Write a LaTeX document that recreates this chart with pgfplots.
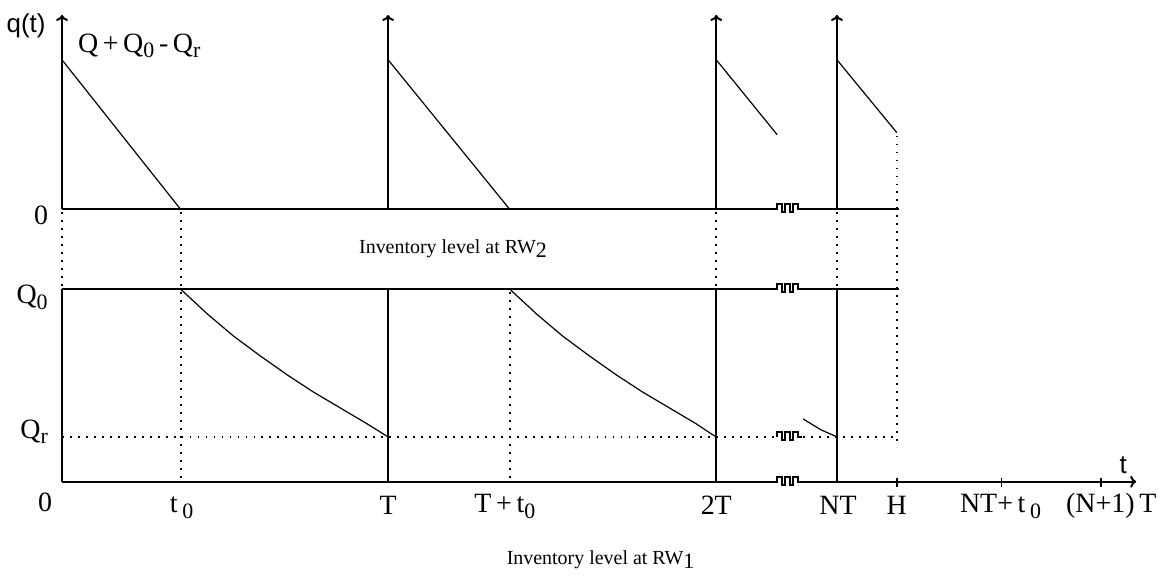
\documentclass[border=0pt]{standalone}
\usepackage{fontspec}
\setmainfont{Liberation Serif}
\newfontfamily\sansf{Liberation Sans}
\usepackage{pgfplots}
\pgfplotsset{compat=1.18}
\usetikzlibrary{arrows.meta}

% larger, lower subscripts as in the reference
\newcommand{\sub}[1]{\raisebox{-0.45ex}{\fontsize{11}{11}\selectfont #1}}

\tikzset{
    axisline/.style={line width=1pt},
    saw/.style={line width=0.6pt},
    dots/.style={line width=0.9pt, dash pattern=on 0.9pt off 3.1pt},
    up/.style={line width=1pt, -{To[length=3pt,width=6pt]}},
    lab/.style={font=\fontsize{14}{14}\selectfont},
    small/.style={font=\fontsize{10}{10}\selectfont},
}

\begin{document}
\begin{tikzpicture}
\begin{axis}[
    x=0.5pt, y=0.5pt, y dir=reverse,
    xmin=0, xmax=1163, ymin=0, ymax=572,
    hide axis, clip=false,
    every axis plot/.append style={black, no markers},
]
\path (rel axis cs:0,0) rectangle (rel axis cs:1,1);

% ---- inventory at RW2 (upper panel)
\addplot[up] coordinates {(61,210)(61,15)};
\addplot[up] coordinates {(388,210)(388,15)};
\addplot[up] coordinates {(717,210)(717,15)};
\addplot[up] coordinates {(838,210)(838,15)};
\addplot[axisline] coordinates {(61,210)(778,210)(778,205)(783,205)(783,213)(786,213)(786,205)(791,205)(791,213)(794,213)(794,205)(799,205)(799,210)(900,210)};
\addplot[saw] coordinates {(61,60)(180,210)};
\addplot[saw] coordinates {(388,60)(510,210)};
\addplot[saw] coordinates {(717,60)(778,135)};
\addplot[saw] coordinates {(838,60)(898,133)};

% ---- inventory at RW1 (lower panel)
\addplot[axisline] coordinates {(61,483)(61,290)};
\addplot[axisline] coordinates {(388,483)(388,290)};
\addplot[axisline] coordinates {(717,483)(717,290)};
\addplot[axisline] coordinates {(838,483)(838,290)};
\addplot[axisline] coordinates {(61,290)(778,290)(778,285)(783,285)(783,293)(786,293)(786,285)(791,285)(791,293)(794,293)(794,285)(799,285)(799,290)(900,290)};
\addplot[axisline, -{To[length=3pt,width=6pt]}] coordinates {(61,483)(778,483)(778,478)(783,478)(783,486)(786,486)(786,478)(791,478)(791,486)(794,486)(794,478)(799,478)(799,483)(1138,483)};
\addplot[line width=0.8pt] coordinates {(898,479)(898,488)};
\addplot[line width=0.8pt] coordinates {(1003,479)(1003,488)};
\addplot[line width=0.8pt] coordinates {(1103,479)(1103,488)};
\addplot[saw] coordinates {(180,290)(207,315)(233,337)(260,357)(287,376)(313,393)(340,409)(367,425)(383,435)(388,438)};
\addplot[saw] coordinates {(510,290)(537,315)(563,337)(590,357)(617,376)(643,393)(670,409)(697,425)(712,435)(717,438)};
\addplot[saw] coordinates {(804,420)(822,431)(838,438)};

% ---- reorder level and guides
\addplot[dots] coordinates {(61,438)(776,438)};
\addplot[dots] coordinates {(804,438)(896,438)};
\addplot[line width=0.8pt] coordinates {(778,438)(778,433)(783,433)(783,441)(786,441)(786,433)(791,433)(791,441)(794,441)(794,433)(799,433)(799,438)(803,438)};
\addplot[dots] coordinates {(61,213)(61,290)};
\addplot[dots] coordinates {(180,213)(180,483)};
\addplot[dots] coordinates {(510,293)(510,483)};
\addplot[dots] coordinates {(717,213)(717,290)};
\addplot[dots] coordinates {(838,213)(838,290)};
\addplot[dots] coordinates {(898,136)(898,448)};

% ---- labels
\node[font=\sansf\fontsize{13}{13}\selectfont] at (25,26) {q(t)};
\node[lab, anchor=west] at (70,46) {Q\,+\,Q\sub{0}\,-\,Q\sub{r}};
\node[lab] at (40,216) {0};
\node[lab] at (31,298) {Q\sub{0}};
\node[lab] at (33,433) {Q\sub{r}};
\node[lab] at (44,504) {0};
\node[lab] at (181,509) {t\,\sub{0}};
\node[lab] at (388,507) {T};
\node[lab] at (505,508) {T\,+\,t\sub{0}};
\node[lab] at (717,507) {2T};
\node[lab] at (839,507) {NT};
\node[lab] at (898,507) {H};
\node[lab] at (1002,508) {NT+\,t\,\sub{0}};
\node[lab] at (1113,507) {(N+1)\,T};
\node[font=\sansf\fontsize{13}{13}\selectfont] at (1125,466) {t};
\node[small] at (453,249) {Inventory level at RW\sub{2}};
\node[small] at (601,561) {Inventory level at RW\sub{1}};
\end{axis}
\end{tikzpicture}
\end{document}
